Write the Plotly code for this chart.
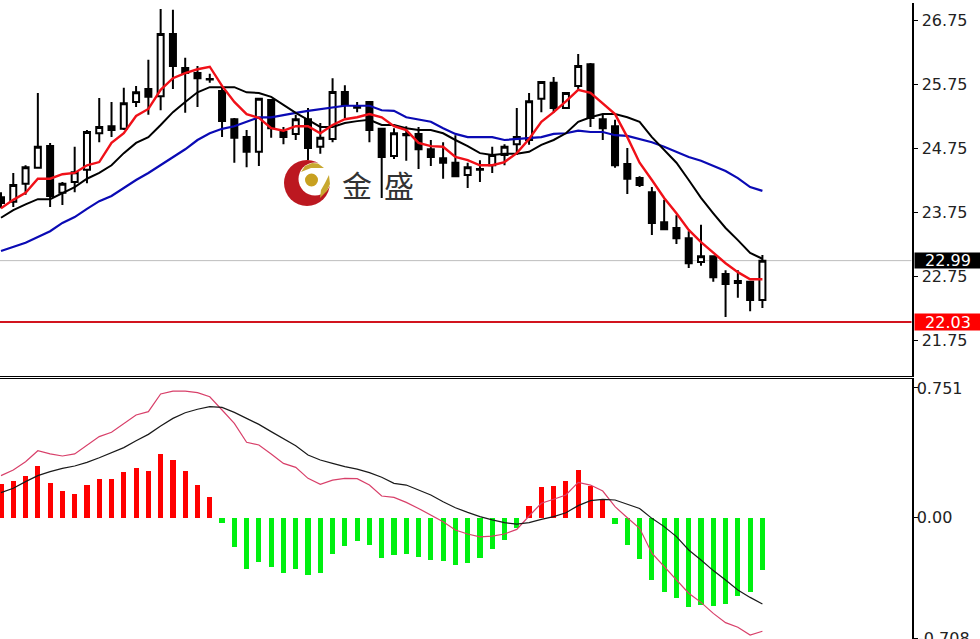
import plotly.graph_objects as go

W, H = 980, 639

open_ = [23.98,23.91,24.19,24.44,24.78,24.05,24.22,24.41,24.98,25.09,25.05,25.47,25.67,25.56,26.53,26.00,25.92,25.83,25.64,25.20,24.92,24.69,25.50,25.00,24.97,25.20,24.77,24.89,25.625,25.39,25.47,25.05,24.625,24.97,24.97,24.73,24.59,24.52,24.33,24.41,24.48,24.64,24.81,24.875,25.52,25.77,25.375,25.72,26.06,25.20,25.09,24.50,24.28,24.06,23.59,23.50,23.34,22.97,23.06,22.78,22.64,22.66,22.375]
high = [24.06,24.36,24.48,25.61,24.83,24.22,24.77,25.03,25.53,25.47,25.69,25.72,26.13,26.92,26.91,26.16,26.03,25.91,25.70,25.22,25.03,25.53,25.50,25.08,25.27,25.375,25.14,25.84,25.73,25.47,25.47,25.06,25.06,25.09,25.08,24.875,24.84,24.95,24.52,24.56,24.77,24.81,25.375,25.61,25.78,25.86,25.625,26.22,26.08,25.27,25.19,24.75,24.31,24.14,23.94,23.70,23.45,23.55,23.06,22.84,22.84,22.66,23.08]
low = [23.81,23.83,24.02,24.44,23.83,23.86,24.06,24.20,24.84,24.92,25.03,25.39,25.27,25.34,25.67,25.30,25.39,25.77,24.92,24.52,24.45,24.47,24.91,24.81,24.875,24.56,24.66,24.84,25.22,25.31,24.84,23.97,24.58,24.55,24.42,24.47,24.27,24.30,24.125,24.22,24.36,24.48,24.64,24.80,25.31,25.30,25.375,25.66,25.08,24.875,24.44,24.03,24.14,23.39,23.47,23.25,22.875,22.91,22.66,22.11,22.41,22.20,22.25]
close = [23.89,24.17,24.45,24.77,24.00,24.19,24.37,25.00,25.08,25.03,25.45,25.62,25.55,26.53,26.03,25.92,25.84,25.82,25.17,24.91,24.69,25.52,25.06,24.92,25.20,24.75,24.91,25.625,25.42,25.38,25.03,24.61,24.98,24.95,24.73,24.61,24.52,24.31,24.45,24.42,24.64,24.77,24.92,25.48,25.78,25.375,25.61,26.03,25.22,25.06,24.48,24.27,24.17,23.58,23.48,23.34,22.95,23.06,22.73,22.625,22.67,22.375,22.99]

ma_red = [23.81,23.94,24.05,24.27,24.27,24.34,24.36,24.48,24.53,24.83,24.98,25.25,25.36,25.66,25.84,25.92,25.98,26.02,25.72,25.47,25.28,25.22,25.06,25.02,25.09,25.09,24.98,25.11,25.20,25.23,25.28,25.23,25.09,25.03,24.83,24.78,24.77,24.61,24.56,24.48,24.48,24.53,24.67,24.89,25.16,25.31,25.48,25.66,25.61,25.45,25.28,24.92,24.52,24.25,23.97,23.73,23.47,23.28,23.11,22.95,22.81,22.70,22.70]
ma_black = [23.66,23.78,23.87,23.95,23.95,24.05,24.14,24.27,24.36,24.48,24.67,24.83,24.92,25.11,25.31,25.47,25.62,25.70,25.70,25.70,25.62,25.61,25.55,25.42,25.30,25.19,25.08,25.08,25.14,25.17,25.19,25.11,25.11,25.06,25.03,25.03,24.98,24.875,24.78,24.67,24.64,24.66,24.66,24.69,24.80,24.875,24.98,25.16,25.23,25.28,25.28,25.23,25.16,24.92,24.72,24.52,24.25,23.97,23.73,23.50,23.31,23.11,23.02]
ma_blue = [23.14,23.20,23.27,23.36,23.45,23.58,23.67,23.80,23.92,24.00,24.13,24.25,24.36,24.48,24.61,24.73,24.875,24.98,25.05,25.09,25.16,25.23,25.23,25.27,25.30,25.33,25.36,25.39,25.41,25.41,25.41,25.34,25.33,25.23,25.20,25.16,25.06,24.97,24.92,24.92,24.92,24.875,24.89,24.91,24.92,24.97,24.98,25.02,25.00,25.00,24.95,24.94,24.89,24.84,24.77,24.69,24.61,24.55,24.47,24.39,24.28,24.14,24.08]

macd_hist = [0.196,0.215,0.244,0.297,0.198,0.153,0.136,0.192,0.227,0.227,0.262,0.289,0.272,0.369,0.336,0.268,0.192,0.122,-0.031,-0.173,-0.297,-0.258,-0.291,-0.324,-0.297,-0.332,-0.324,-0.211,-0.167,-0.134,-0.161,-0.233,-0.221,-0.211,-0.229,-0.246,-0.256,-0.279,-0.264,-0.233,-0.182,-0.132,-0.060,0.066,0.175,0.186,0.215,0.277,0.186,0.103,-0.039,-0.161,-0.241,-0.365,-0.435,-0.469,-0.520,-0.508,-0.516,-0.504,-0.458,-0.435,-0.307]
macd_fast = [0.241,0.274,0.322,0.386,0.367,0.355,0.367,0.419,0.468,0.493,0.545,0.594,0.613,0.716,0.733,0.733,0.724,0.700,0.623,0.545,0.435,0.419,0.367,0.312,0.289,0.225,0.190,0.215,0.225,0.223,0.186,0.122,0.114,0.085,0.050,0.012,-0.027,-0.076,-0.099,-0.116,-0.111,-0.099,-0.072,0.006,0.080,0.103,0.128,0.202,0.186,0.151,0.060,-0.004,-0.066,-0.211,-0.289,-0.367,-0.444,-0.497,-0.561,-0.615,-0.642,-0.687,-0.665]
macd_signal = [0.142,0.167,0.206,0.241,0.264,0.283,0.297,0.318,0.345,0.374,0.404,0.444,0.481,0.530,0.574,0.607,0.627,0.642,0.638,0.609,0.574,0.539,0.497,0.458,0.415,0.361,0.332,0.312,0.293,0.279,0.258,0.231,0.196,0.186,0.157,0.128,0.089,0.054,0.027,0.002,-0.017,-0.033,-0.041,-0.033,-0.014,0.002,0.025,0.066,0.095,0.103,0.099,0.076,0.050,-0.008,-0.056,-0.114,-0.192,-0.250,-0.312,-0.367,-0.425,-0.468,-0.506]

price_ticks = [26.75, 25.75, 24.75, 23.75, 22.75, 21.75]
price_labels = ["26.75", "25.75", "24.75", "23.75", "22.75", "21.75"]
macd_ticks = [0.751, 0.0, -0.708]
macd_labels = ["0.751", "0.00", ""]
macd_bottom_label = "-0.708"
macd_bottom_value = -0.708
last_price = 22.99
level_price = 22.03
logo_text = ["金", "盛"]

idx = list(range(len(close)))

fig = go.Figure()
fig.add_trace(go.Candlestick(
    x=idx, open=open_, high=high, low=low, close=close, xaxis="x", yaxis="y",
    increasing=dict(line=dict(color="#000000", width=2), fillcolor="#ffffff"),
    decreasing=dict(line=dict(color="#000000", width=2), fillcolor="#000000"),
    whiskerwidth=0, showlegend=False))
fig.add_trace(go.Scatter(x=idx, y=ma_blue, mode="lines", line=dict(color="#0a0ab4", width=2.2), xaxis="x", yaxis="y", showlegend=False))
fig.add_trace(go.Scatter(x=idx, y=ma_black, mode="lines", line=dict(color="#000000", width=2), xaxis="x", yaxis="y", showlegend=False))
fig.add_trace(go.Scatter(x=idx, y=ma_red, mode="lines", line=dict(color="#f01018", width=2.4), xaxis="x", yaxis="y", showlegend=False))

fig.add_trace(go.Bar(x=idx, y=macd_hist, width=0.42,
                     marker=dict(color=["#ff0000" if v > 0 else "#00f010" for v in macd_hist], line=dict(width=0)),
                     xaxis="x2", yaxis="y2", showlegend=False))
fig.add_trace(go.Scatter(x=idx, y=macd_fast, mode="lines", line=dict(color="#d8406a", width=1.2), xaxis="x2", yaxis="y2", showlegend=False))
fig.add_trace(go.Scatter(x=idx, y=macd_signal, mode="lines", line=dict(color="#1a1a1a", width=1.2), xaxis="x2", yaxis="y2", showlegend=False))


def px(v):
    return v / W


def py(v):
    return 1 - v / H


def circle(cx, cy, r, color):
    return dict(type="circle", xref="paper", yref="paper", x0=px(cx - r), x1=px(cx + r),
                y0=py(cy + r), y1=py(cy - r), fillcolor=color, line=dict(width=0), layer="above")


def poly(points, color):
    d = "M " + " L ".join(f"{px(a):.5f},{py(b):.5f}" for a, b in points) + " Z"
    return dict(type="path", xref="paper", yref="paper", path=d, fillcolor=color, line=dict(width=0), layer="above")


shapes = [
    dict(type="line", xref="x domain", yref="y", x0=0, x1=1, y0=last_price, y1=last_price,
         line=dict(color="#bdbdbd", width=1), layer="below"),
    dict(type="line", xref="x domain", yref="y", x0=0, x1=1, y0=level_price, y1=level_price,
         line=dict(color="#d2141e", width=2), layer="above"),
    circle(307, 183, 23, "#bc1820"),
    circle(315, 179, 16.5, "#ffffff"),
    circle(311.5, 180, 6.5, "#c8a020"),
    poly([(301, 172), (305, 166), (312, 163), (318, 163.5), (324, 168), (318, 168), (311, 168), (306, 170)], "#c8a830"),
    poly([(329, 175), (330, 184), (327, 191), (320, 198), (321, 190), (325, 183)], "#c8a830"),
]

annotations = [
    dict(xref="paper", yref="y", x=px(914), y=last_price, xanchor="left", yanchor="middle", text="22.99",
         showarrow=False, bgcolor="#000000", width=66, height=15, align="center",
         font=dict(family="DejaVu Sans", size=16, color="#ffffff"), borderpad=0),
    dict(xref="paper", yref="y", x=px(914), y=level_price, xanchor="left", yanchor="middle", text="22.03",
         showarrow=False, bgcolor="#ff0000", width=66, height=16, align="center",
         font=dict(family="DejaVu Sans", size=16, color="#ffffff"), borderpad=0),
    dict(xref="paper", yref="y2", x=px(917), y=macd_bottom_value, xanchor="left", yanchor="middle",
         text=macd_bottom_label, showarrow=False, borderpad=0,
         font=dict(family="DejaVu Sans", size=16, color="#222222")),
    dict(xref="paper", yref="paper", x=px(356.5), y=py(184), xanchor="center", yanchor="middle", text=logo_text[0],
         showarrow=False, font=dict(family="Noto Sans CJK SC", size=30, color="#333333")),
    dict(xref="paper", yref="paper", x=px(399), y=py(184), xanchor="center", yanchor="middle", text=logo_text[1],
         showarrow=False, font=dict(family="Noto Sans CJK SC", size=30, color="#333333")),
]

x_range = [-0.081, 74.14]
axis_right = 911.5 / W
fig.update_layout(
    width=W, height=H, autosize=False,
    margin=dict(l=0, r=0, t=0, b=0),
    paper_bgcolor="#ffffff", plot_bgcolor="#ffffff",
    showlegend=False, bargap=0, shapes=shapes, annotations=annotations,
    xaxis=dict(domain=[0, axis_right], range=x_range, anchor="y", showgrid=False, zeroline=False,
               showticklabels=False, ticks="", showline=True, linecolor="#000000", linewidth=1,
               rangeslider=dict(visible=False)),
    yaxis=dict(domain=[(H - 375.5) / H, (H - 3) / H], range=[27.0625 - 375.5 / 64, 27.0625 - 3 / 64], anchor="x",
               side="right", showgrid=False, zeroline=False, tickmode="array", tickvals=price_ticks,
               ticktext=price_labels, ticks="outside", ticklen=4, tickcolor="#000000", tickwidth=1,
               showline=True, linecolor="#000000", linewidth=2, ticklabelstandoff=1,
               tickfont=dict(family="DejaVu Sans", size=16, color="#222222")),
    xaxis2=dict(domain=[0, axis_right], range=x_range, anchor="y2", side="top", showgrid=False, zeroline=False,
                showticklabels=False, ticks="", showline=True, linecolor="#000000", linewidth=1),
    yaxis2=dict(domain=[0, (H - 378.5) / H], range=[(517 - 639) / 171.8, (517 - 378.5) / 171.8], anchor="x2",
                side="right", showgrid=False, zeroline=False, tickmode="array", tickvals=macd_ticks,
                ticktext=macd_labels, ticks="outside", ticklen=4, tickcolor="#000000", tickwidth=1,
                showline=True, linecolor="#000000", linewidth=2, ticklabelstandoff=-4,
                tickfont=dict(family="DejaVu Sans", size=16, color="#222222")),
)
fig.write_html("out.html", config=dict(displayModeBar=False),
               post_script="document.body.style.margin='0';document.documentElement.style.overflow='hidden';")
